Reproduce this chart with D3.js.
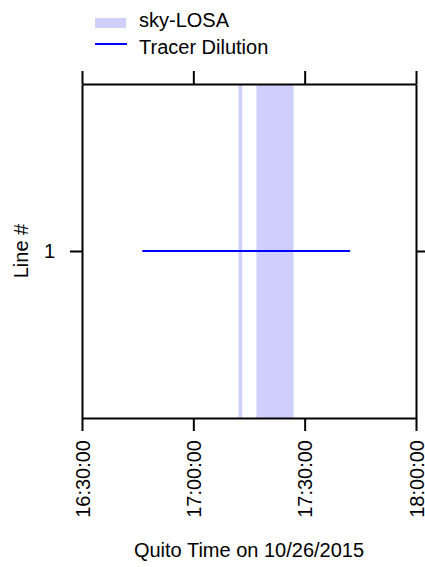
<!DOCTYPE html>
<html>
<head>
<meta charset="utf-8">
<script src="https://cdn.jsdelivr.net/npm/d3@7"></script>
<style>
  body { margin: 0; background: #fff; }
  svg { font-family: Arial, 'Liberation Sans', sans-serif; }
</style>
</head>
<body>
<div id="chart"></div>
<script>
const width = 425;
const height = 567;
const margin = { top: 84, right: 9, bottom: 149, left: 82 };
const fontSize = 20;

// data
const day = '2015-10-26';
const xTicks = ['16:30:00', '17:00:00', '17:30:00', '18:00:00'];
const losaStart = ['17:12:10', '17:17:00'];
const losaEnd = ['17:13:10', '17:27:00'];
const tracerLine = [1];
const tracerStart = ['16:46:15'];
const tracerEnd = ['17:42:15'];
const yTicks = [1];

const parse = (t) => new Date(`${day}T${t}Z`);

const svg = d3
  .select('#chart')
  .append('svg')
  .attr('width', width)
  .attr('height', height);

const plotW = width - margin.left - margin.right;
const plotH = height - margin.top - margin.bottom;

const xScale = d3
  .scaleUtc()
  .domain([parse(xTicks[0]), parse(xTicks[xTicks.length - 1])])
  .range([margin.left, margin.left + plotW]);

const yScale = d3
  .scaleLinear()
  .domain([0, 2])
  .range([margin.top + plotH, margin.top]);

const fmt = d3.utcFormat('%H:%M:%S');
const tickVals = xTicks.map(parse);

// sky-LOSA bands
svg
  .append('g')
  .selectAll('rect')
  .data(losaStart.map((s, i) => [parse(s), parse(losaEnd[i])]))
  .enter()
  .append('rect')
  .attr('x', (d) => xScale(d[0]))
  .attr('y', margin.top)
  .attr('width', (d) => xScale(d[1]) - xScale(d[0]))
  .attr('height', plotH)
  .attr('fill', '#cfcffb');

// tracer dilution line
svg
  .append('g')
  .selectAll('line')
  .data(tracerLine.map((l, i) => ({ l, s: parse(tracerStart[i]), e: parse(tracerEnd[i]) })))
  .enter()
  .append('line')
  .attr('x1', (d) => xScale(d.s))
  .attr('x2', (d) => xScale(d.e))
  .attr('y1', (d) => yScale(d.l))
  .attr('y2', (d) => yScale(d.l))
  .attr('stroke', '#0000ff')
  .attr('stroke-width', 2);

// axes
const styleAxis = (g) => {
  g.selectAll('path').attr('stroke', '#000').attr('stroke-width', 2);
  g.selectAll('line').attr('stroke', '#000').attr('stroke-width', 2);
  g.attr('font-size', fontSize).attr('font-family', 'Arial, Liberation Sans, sans-serif');
  g.selectAll('text').attr('fill', '#000');
};

const xBottom = svg
  .append('g')
  .attr('transform', `translate(0, ${margin.top + plotH})`)
  .call(d3.axisBottom(xScale).tickValues(tickVals).tickFormat(fmt).tickSize(13).tickSizeOuter(0))
  .call(styleAxis);
xBottom
  .selectAll('text')
  .attr('transform', 'rotate(-90)')
  .attr('text-anchor', 'end')
  .attr('x', -22)
  .attr('y', 0)
  .attr('dy', '0.35em');

svg
  .append('g')
  .attr('transform', `translate(0, ${margin.top})`)
  .call(d3.axisTop(xScale).tickValues(tickVals).tickFormat('').tickSize(13).tickSizeOuter(0))
  .call(styleAxis);

svg
  .append('g')
  .attr('transform', `translate(${margin.left}, 0)`)
  .call(d3.axisLeft(yScale).tickValues(yTicks).tickFormat(d3.format('d')).tickSize(12).tickPadding(15).tickSizeOuter(0))
  .call(styleAxis);

svg
  .append('g')
  .attr('transform', `translate(${margin.left + plotW}, 0)`)
  .call(d3.axisRight(yScale).tickValues(yTicks).tickFormat('').tickSize(12).tickSizeOuter(0))
  .call(styleAxis);

// axis titles
svg
  .append('text')
  .attr('transform', 'rotate(-90)')
  .attr('x', -(margin.top + plotH / 2))
  .attr('y', 28)
  .attr('text-anchor', 'middle')
  .attr('font-size', fontSize)
  .text('Line #');

svg
  .append('text')
  .attr('x', margin.left + plotW / 2)
  .attr('y', 557)
  .attr('text-anchor', 'middle')
  .attr('font-size', fontSize)
  .text('Quito Time on 10/26/2015');

// legend
const legend = svg.append('g').attr('transform', 'translate(95, 0)');
legend
  .append('rect')
  .attr('x', 0)
  .attr('y', 18)
  .attr('width', 31)
  .attr('height', 10)
  .attr('fill', '#cfcffb');
legend
  .append('text')
  .attr('x', 44)
  .attr('y', 26.5)
  .attr('font-size', fontSize)
  .text('sky-LOSA');
legend
  .append('line')
  .attr('x1', 0)
  .attr('x2', 32)
  .attr('y1', 44)
  .attr('y2', 44)
  .attr('stroke', '#0000ff')
  .attr('stroke-width', 2);
legend
  .append('text')
  .attr('x', 44)
  .attr('y', 54)
  .attr('font-size', fontSize)
  .text('Tracer Dilution');
</script>
</body>
</html>
